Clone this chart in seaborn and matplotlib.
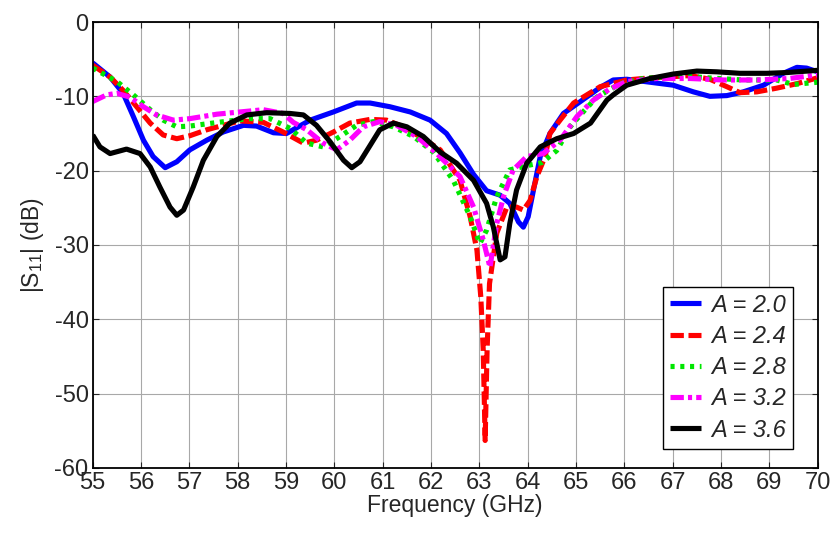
import numpy as np
import pandas as pd
import matplotlib
matplotlib.use("Agg")
import matplotlib.pyplot as plt
import seaborn as sns

# ---- data ----
labels = ["A = 2.0", "A = 2.4", "A = 2.8", "A = 3.2", "A = 3.6"]
colors = ["#0000ff", "#ff0000", "#00e600", "#ff00ff", "#000000"]

f_a20 = [55.0, 55.36, 55.63, 55.84, 56.05, 56.25, 56.5, 56.74, 57.01, 57.36, 57.7, 58.12,
         58.39, 58.74, 59.01, 59.5, 59.98, 60.46, 60.74, 61.15, 61.57, 61.98, 62.32, 62.6,
         62.88, 63.15, 63.43, 63.63, 63.81, 63.91, 64.01, 64.12, 64.26, 64.46, 64.74, 65.09,
         65.5, 65.77, 66.05, 66.53, 67.01, 67.43, 67.77, 68.12, 68.46, 68.88, 69.29, 69.57,
         69.77, 70.0]
s_a20 = [-5.5, -7.4, -9.6, -12.7, -15.9, -18.1, -19.6, -18.8, -17.2, -15.9, -14.8, -13.9,
         -14.0, -14.9, -15.0, -13.2, -12.1, -10.9, -10.9, -11.4, -12.1, -13.2, -15.0, -17.6,
         -20.5, -22.7, -23.3, -24.4, -26.9, -27.6, -26.2, -22.6, -18.1, -15.0, -12.3, -10.7,
         -8.8, -7.8, -7.7, -8.1, -8.5, -9.4, -10.0, -9.9, -9.4, -8.5, -6.9, -6.1,
         -6.2, -6.7]

f_a24 = [55.0, 55.36, 55.63, 55.91, 56.19, 56.46, 56.74, 57.01, 57.36, 57.7, 58.05, 58.53,
         58.94, 59.36, 59.63, 59.98, 60.32, 60.74, 61.08, 61.43, 61.84, 62.19, 62.6, 62.81,
         62.95, 63.03, 63.08, 63.12, 63.16, 63.21, 63.36, 63.57, 63.77, 63.91, 64.05, 64.19,
         64.36, 64.46, 64.67, 64.95, 65.5, 66.05, 66.39, 66.88, 67.36, 67.77, 68.12, 68.39,
         68.74, 69.15, 69.57, 70.0]
s_a24 = [-5.8, -7.4, -9.2, -11.4, -13.6, -15.2, -15.7, -15.3, -14.5, -13.9, -13.3, -13.5,
         -14.8, -16.3, -15.9, -14.8, -13.6, -13.1, -13.2, -14.1, -15.7, -17.2, -21.3, -26.2,
         -30.7, -37.0, -44.1, -56.3, -44.1, -35.2, -28.4, -24.9, -24.9, -25.3, -24.0, -20.8,
         -18.1, -15.0, -13.2, -10.9, -8.7, -7.8, -7.6, -7.4, -7.2, -7.7, -8.7, -9.5,
         -9.4, -8.9, -8.3, -7.5]

f_a28 = [55.0, 55.5, 55.84, 56.19, 56.46, 56.74, 57.01, 57.36, 57.84, 58.25, 58.67, 59.08,
         59.43, 59.77, 60.12, 60.46, 60.81, 61.22, 61.64, 62.05, 62.46, 62.81, 63.01, 63.15,
         63.36, 63.63, 64.0, 64.3, 64.6, 64.88, 65.09, 65.43, 65.91, 66.39, 67.15, 67.7,
         68.46, 69.15, 69.5, 70.0]
s_a28 = [-6.2, -8.0, -9.8, -11.8, -13.2, -14.1, -14.0, -13.7, -13.3, -13.0, -13.0, -14.3,
         -16.3, -16.8, -15.4, -13.9, -13.4, -14.1, -15.4, -17.5, -21.3, -26.2, -29.8, -28.0,
         -23.5, -19.9, -19.3, -18.9, -17.3, -14.1, -12.5, -10.1, -8.3, -7.6, -7.2, -7.5,
         -7.8, -7.8, -8.4, -8.1]

f_a32 = [55.0, 55.29, 55.5, 55.77, 56.05, 56.32, 56.67, 57.01, 57.57, 58.05, 58.53, 58.94,
         59.15, 59.43, 59.77, 60.05, 60.32, 60.6, 60.94, 61.29, 61.7, 62.12, 62.6, 62.88,
         63.08, 63.22, 63.36, 63.5, 63.7, 63.98, 64.32, 64.67, 65.02, 65.36, 65.7, 66.05,
         66.67, 67.36, 68.05, 68.74, 69.42, 70.0]
s_a32 = [-10.7, -9.8, -9.6, -10.1, -11.4, -12.5, -13.2, -13.0, -12.4, -12.1, -11.8, -12.3,
         -13.5, -14.5, -16.3, -17.2, -15.9, -14.1, -13.4, -13.9, -15.4, -17.7, -20.8, -24.9,
         -29.3, -33.0, -27.1, -23.5, -19.9, -18.1, -17.7, -15.9, -12.7, -10.5, -9.0, -8.0,
         -7.6, -7.6, -7.8, -7.8, -7.6, -7.1]

f_a36 = [55.0, 55.15, 55.36, 55.7, 55.98, 56.19, 56.39, 56.6, 56.74, 56.88, 57.08, 57.29,
         57.57, 57.84, 58.19, 58.6, 59.08, 59.36, 59.63, 59.91, 60.19, 60.36, 60.53, 60.74,
         60.94, 61.22, 61.5, 61.84, 62.19, 62.53, 62.88, 63.15, 63.29, 63.43, 63.53, 63.63,
         63.77, 63.98, 64.26, 64.6, 64.95, 65.3, 65.64, 65.77, 66.05, 66.53, 67.01, 67.5,
         67.91, 68.39, 68.95, 69.36, 70.0]
s_a36 = [-15.2, -16.8, -17.7, -17.1, -17.7, -19.5, -22.2, -24.9, -26.0, -25.3, -22.2, -18.6,
         -15.4, -13.6, -12.5, -12.2, -12.3, -12.5, -13.9, -16.1, -18.6, -19.6, -18.8, -16.6,
         -14.5, -13.6, -14.1, -15.4, -17.5, -19.0, -21.3, -24.4, -27.6, -32.0, -31.6, -27.1,
         -22.6, -19.0, -16.8, -15.7, -15.0, -13.6, -10.5, -9.8, -8.5, -7.6, -7.0, -6.6,
         -6.7, -6.9, -6.9, -6.8, -6.5]

x_ticks = list(range(55, 71))
y_ticks = [0, -10, -20, -30, -40, -50, -60]

freqs = [f_a20, f_a24, f_a28, f_a32, f_a36]
vals = [s_a20, s_a24, s_a28, s_a32, s_a36]
df = pd.concat(
    [pd.DataFrame({"f": f, "s": v, "A": lab}) for f, v, lab in zip(freqs, vals, labels)],
    ignore_index=True,
)

# ---- style ----
sns.set_style("ticks")
plt.rcParams["font.family"] = ["Liberation Sans", "DejaVu Sans"]
plt.rcParams["mathtext.default"] = "regular"
plt.rcParams["axes.unicode_minus"] = False

fig = plt.figure(figsize=(8.32, 5.33), dpi=100)
ax = fig.add_axes([0.1114, 0.122, 0.8714, 0.8367])

dashes = {
    "A = 2.0": "",
    "A = 2.4": (2.6, 0.9),
    "A = 2.8": (0.8, 1.1),
    "A = 3.2": (2.6, 0.8, 0.8, 0.8),
    "A = 3.6": "",
}

sns.lineplot(
    data=df, x="f", y="s", hue="A", style="A", hue_order=labels, style_order=labels,
    palette=dict(zip(labels, colors)), dashes=dashes, linewidth=3.7,
    estimator=None, errorbar=None, sort=True, legend=False, ax=ax,
)
for ln in ax.get_lines():
    ln.set_solid_capstyle("butt")
    ln.set_dash_capstyle("butt")
    ln.set_solid_joinstyle("round")
    ln.set_dash_joinstyle("round")

ax.set_xlim(55, 70)
ax.set_ylim(-60, 0)
ax.set_xticks(x_ticks)
ax.set_yticks(y_ticks)
ax.grid(True, color="#a8a8a8", linewidth=0.8)
ax.set_axisbelow(True)
for sp in ax.spines.values():
    sp.set_visible(True)
    sp.set_linewidth(1.3)
    sp.set_color("black")
ax.tick_params(direction="in", top=True, right=True, length=4, width=0.8,
               labelsize=17, pad=3)
ax.set_xlabel("Frequency (GHz)", fontsize=16.5, labelpad=0)
ax.set_ylabel(r"|S$_{11}$| (dB)", fontsize=16.5, labelpad=6)

leg = ax.legend(
    ax.get_lines()[:5], labels, loc="lower right", bbox_to_anchor=(0.966, 0.043),
    bbox_transform=ax.transAxes, borderaxespad=0, fancybox=False, framealpha=1,
    edgecolor="black", prop={"style": "italic", "size": 17},
    handlelength=1.3, handletextpad=0.45, labelspacing=0.35, borderpad=0.3,
)
leg.get_frame().set_linewidth(1.0)
for h in leg.legend_handles:
    h.set_linewidth(3.7)

fig.savefig("out.png", dpi=100)
